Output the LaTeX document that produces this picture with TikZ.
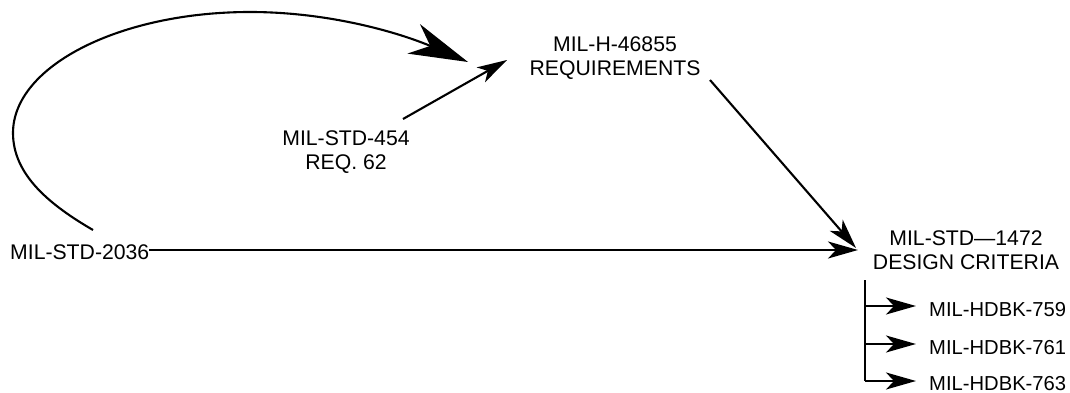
\documentclass[tikz,border=0pt]{standalone}
\usepackage{fontspec}
\setmainfont{Liberation Sans}
\usetikzlibrary{arrows.meta}
\begin{document}
\begin{tikzpicture}[x=1pt,y=-1pt,
  lbl/.style={font=\fontsize{21.2}{24}\selectfont, inner sep=0pt, align=center},
  hdbk/.style={font=\fontsize{20.2}{24}\selectfont, inner sep=0pt, anchor=base west},
  conn/.style={line width=2.1pt},
  bigarrow/.style={-{Stealth[length=59pt,width=32pt,inset=18pt]}},
  medarrow/.style={-{Stealth[length=30pt,width=17pt,inset=8pt]}}]
\useasboundingbox (0,0) rectangle (1070,393);
% nodes
\node[lbl, anchor=base west] (s2036) at (10,259) {MIL-STD-2036};
\node[lbl] (s454) at (346,152.5) {MIL-STD-454\\REQ. 62};
\node[lbl] (h46855) at (615,58.5) {MIL-H-46855\\REQUIREMENTS};
\node[lbl] (s1472) at (966,250) {MIL-STD—1472\\DESIGN CRITERIA};
\node[hdbk] (hb759) at (929,316) {MIL-HDBK-759};
\node[hdbk] (hb761) at (929,354) {MIL-HDBK-761};
\node[hdbk] (hb763) at (929,390) {MIL-HDBK-763};
% connector end points
\coordinate (c2036) at (93,230);
\coordinate (t46a) at (468,62);
\coordinate (f454) at (403,119);
\coordinate (t46b) at (507,60);
\coordinate (f46855) at (710,80);
\coordinate (t1472a) at (856,248);
\coordinate (t1472b) at (858,250);
\coordinate (tr0) at (865,280);
\coordinate (tr1) at (865,306);
\coordinate (tr2) at (865,344);
\coordinate (tr3) at (865,381);
\coordinate (a759) at (916,306);
\coordinate (a761) at (916,344);
\coordinate (a763) at (916,381);
% connectors
\draw[conn,bigarrow] (c2036) .. controls (50,205) and (13,175) .. (13,133)
  .. controls (13,66) and (120,12) .. (250,12)
  .. controls (330,12) and (400,33) .. (t46a);
\draw[conn,medarrow] (f454) -- (t46b);
\draw[conn,medarrow] (f46855) -- (t1472a);
\draw[conn,medarrow] (s2036.east |- t1472b) -- (t1472b);
\draw[conn] (tr0) -- (tr3);
\draw[conn,medarrow] (tr1) -- (a759);
\draw[conn,medarrow] (tr2) -- (a761);
\draw[conn,medarrow] (tr3) -- (a763);
\end{tikzpicture}
\end{document}
